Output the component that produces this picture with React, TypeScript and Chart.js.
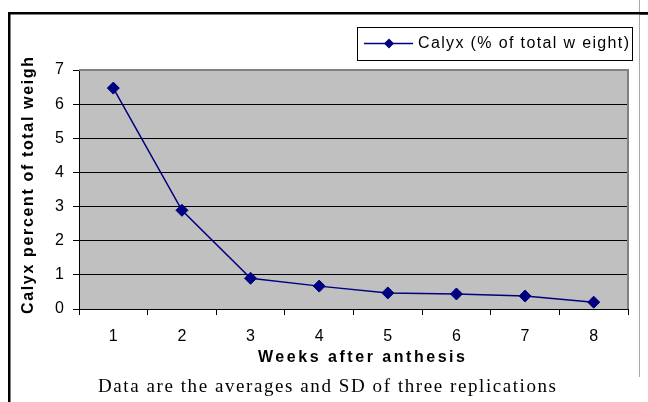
import React, { useEffect, useRef } from 'react';
import { Chart, registerables } from 'chart.js';

Chart.register(...registerables);

// ---- data ----
const weeks = ['1', '2', '3', '4', '5', '6', '7', '8'];
const calyxPercent = [6.47, 2.89, 0.9, 0.67, 0.47, 0.44, 0.38, 0.2];
const yTickValues = [0, 1, 2, 3, 4, 5, 6, 7];
const seriesLabel = 'Calyx (% of total w eight)';
const xTitle = 'Weeks after anthesis';
const yTitle = 'Calyx percent of total weigh';
const footnote = 'Data are the averages and SD of three replications';

const SANS = "'Liberation Sans', Arial, sans-serif";
const SERIF = "'Liberation Serif', 'Times New Roman', serif";
const NAVY = '#000080';

function drawFitted(ctx: CanvasRenderingContext2D, text: string, x: number, y: number, width: number) {
  (ctx as any).letterSpacing = '0px';
  const w = ctx.measureText(text).width;
  const ls = text.length > 1 ? (width - w) / (text.length - 1) : 0;
  (ctx as any).letterSpacing = ls + 'px';
  ctx.textAlign = 'left';
  ctx.fillText(text, x, y);
  (ctx as any).letterSpacing = '0px';
}

const decor = {
  id: 'decor',
  beforeDraw(chart: any) {
    const { ctx, chartArea: a } = chart;
    ctx.save();
    ctx.fillStyle = '#ffffff';
    ctx.fillRect(0, 0, chart.width, chart.height);
    ctx.fillStyle = '#C0C0C0';
    ctx.fillRect(a.left, a.top, a.right - a.left, a.bottom - a.top);
    ctx.restore();
  },
  beforeDatasetsDraw(chart: any) {
    const { ctx, chartArea: a } = chart;
    ctx.save();
    ctx.strokeStyle = '#808080';
    ctx.lineWidth = 2;
    ctx.beginPath();
    ctx.moveTo(a.left, a.top);
    ctx.lineTo(a.right, a.top);
    ctx.lineTo(a.right, a.bottom);
    ctx.stroke();
    ctx.restore();
  },
  afterDraw(chart: any) {
    const { ctx } = chart;
    ctx.save();
    // outer frame
    ctx.fillStyle = '#000';
    ctx.fillRect(8, 12, 2.5, chart.height - 12);
    ctx.fillRect(8, 12, chart.width - 8, 2.5);
    // thin grey vertical line at right
    ctx.fillStyle = '#a8a8a8';
    ctx.fillRect(639, 0, 1, 377);
    ctx.fillStyle = '#000';
    ctx.fillRect(639, 12, 9, 2.5);

    // legend
    const ds = chart.data.datasets[0];
    ctx.fillStyle = '#fff';
    ctx.fillRect(357.5, 27.5, 275, 33);
    ctx.strokeStyle = '#000';
    ctx.lineWidth = 1;
    ctx.strokeRect(357.5, 27.5, 275, 33);
    ctx.strokeStyle = ds.borderColor;
    ctx.lineWidth = 1.5;
    ctx.beginPath();
    ctx.moveTo(364, 43.5);
    ctx.lineTo(413, 43.5);
    ctx.stroke();
    ctx.fillStyle = ds.pointBackgroundColor;
    const r = 5;
    ctx.beginPath();
    ctx.moveTo(389, 43.5 - r);
    ctx.lineTo(389 + r, 43.5);
    ctx.lineTo(389, 43.5 + r);
    ctx.lineTo(389 - r, 43.5);
    ctx.closePath();
    ctx.fill();
    ctx.fillStyle = '#000';
    ctx.font = `16px ${SANS}`;
    ctx.textBaseline = 'middle';
    drawFitted(ctx, ds.label, 418, 44, 211);

    // x title
    ctx.font = `bold 16px ${SANS}`;
    ctx.textBaseline = 'middle';
    drawFitted(ctx, xTitle, 258, 358, 207);

    // y title
    ctx.save();
    ctx.translate(29, 314);
    ctx.rotate(-Math.PI / 2);
    ctx.font = `bold 16px ${SANS}`;
    ctx.textBaseline = 'middle';
    drawFitted(ctx, yTitle, 0, 0, 257);
    ctx.restore();

    // footnote
    ctx.font = `19px ${SERIF}`;
    ctx.textBaseline = 'alphabetic';
    drawFitted(ctx, footnote, 98, 392, 458);
    ctx.restore();
  },
};

export default function App() {
  const ref = useRef<HTMLCanvasElement>(null);
  useEffect(() => {
    const chart = new Chart(ref.current as HTMLCanvasElement, {
      type: 'line',
      data: {
        labels: weeks,
        datasets: [
          {
            label: seriesLabel,
            data: calyxPercent,
            borderColor: NAVY,
            borderWidth: 1.5,
            pointStyle: 'rectRot',
            pointRadius: 6,
            pointBackgroundColor: NAVY,
            pointBorderColor: NAVY,
            pointBorderWidth: 1,
            tension: 0,
            clip: false as any,
          },
        ],
      },
      options: {
        responsive: false,
        devicePixelRatio: 1,
        animation: false,
        layout: { padding: { left: 39, right: 20, top: 70, bottom: 53 } },
        plugins: { legend: { display: false }, tooltip: { enabled: false } },
        scales: {
          x: {
            type: 'category',
            offset: true,
            grid: {
              offset: true,
              drawOnChartArea: false,
              drawTicks: true,
              tickLength: 6,
              color: '#000',
              tickColor: '#000',
              lineWidth: 1,
            },
            border: { display: true, color: '#000', width: 1 },
            ticks: {
              color: '#000',
              font: { family: SANS, size: 16 },
              padding: 12,
              maxRotation: 0,
              autoSkip: false,
            },
            afterFit: (s: any) => {
              s.height = 40;
            },
          },
          y: {
            min: 0,
            max: 7,
            afterBuildTicks: (s: any) => {
              s.ticks = yTickValues.map((v) => ({ value: v }));
            },
            grid: {
              color: (c: any) => (c.tick && c.tick.value === 7 ? 'rgba(0,0,0,0)' : '#000'),
              tickColor: '#000',
              tickLength: 6,
              lineWidth: 1,
            },
            border: { display: true, color: '#000', width: 1 },
            ticks: {
              color: '#000',
              font: { family: SANS, size: 16 },
              padding: 9,
            },
            afterFit: (s: any) => {
              s.width = 40;
            },
          },
        },
      },
      plugins: [decor],
    });
    return () => chart.destroy();
  }, []);
  return (
    <div style={{ position: 'absolute', left: 0, top: 0, width: 648, height: 402 }}>
      <canvas ref={ref} width={648} height={402} style={{ display: 'block', width: 648, height: 402 }} />
    </div>
  );
}
